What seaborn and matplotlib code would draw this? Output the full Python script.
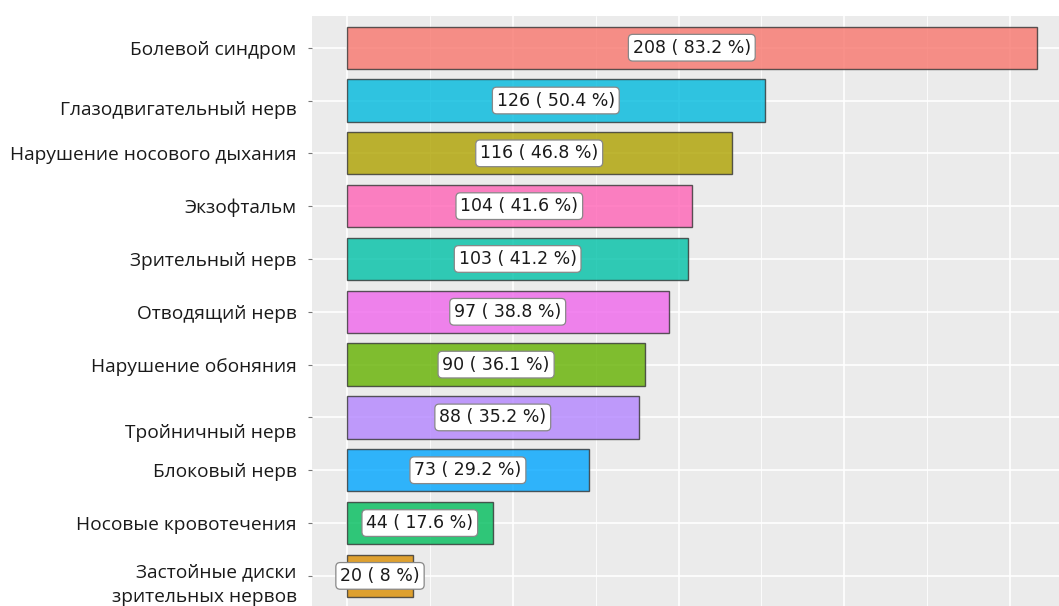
import matplotlib
matplotlib.use("Agg")
import matplotlib.pyplot as plt
import matplotlib.transforms as mtransforms
from matplotlib.ticker import MultipleLocator
import seaborn as sns
import pandas as pd

categories = ['Болевой синдром', 'Глазодвигательный нерв', 'Нарушение носового дыхания',
              'Экзофтальм', 'Зрительный нерв', 'Отводящий нерв', 'Нарушение обоняния',
              'Тройничный нерв', 'Блоковый нерв', 'Носовые кровотечения',
              'Застойные диски\nзрительных нервов']
counts = [208, 126, 116, 104, 103, 97, 90, 88, 73, 44, 20]
percents = [83.2, 50.4, 46.8, 41.6, 41.2, 38.8, 36.1, 35.2, 29.2, 17.6, 8]
colors = ['#F8766D', '#00BADE', '#AEA200', '#FF63B6', '#00C1A7', '#EF67EB',
          '#64B200', '#B385FF', '#00A6FF', '#00BD5C', '#DB8E00']

df = pd.DataFrame({'cat': categories, 'n': counts, 'pct': percents})

sns.set_style('darkgrid', {'axes.facecolor': '#EBEBEB', 'grid.color': 'white'})
plt.rcParams['font.family'] = ['DejaVu Sans']

fig = plt.figure(figsize=(10.59, 6.06), dpi=100)
ax = fig.add_axes([312 / 1059, 0, 1 - 312 / 1059, 1 - 16 / 606])

sns.barplot(data=df, y='cat', x='n', hue='cat', palette=colors, orient='h',
            width=0.8, alpha=0.8, saturation=1, edgecolor='#333333', linewidth=1.0,
            legend=False, ax=ax)

# подписи в белых рамках по центру столбцов
for i, (n, p) in enumerate(zip(counts, percents)):
    ax.text(n / 2, i, f'{n} ( {p:g} %)', ha='center', va='center', fontsize=12.5,
            color='#1a1a1a',
            bbox=dict(boxstyle='round,pad=0.25', fc='white', ec='#888888', lw=0.9))

ax.set_xlim(-10.5, 214.7)
ax.set_ylim(10.57, -0.6)
ax.xaxis.set_major_locator(MultipleLocator(50))
ax.xaxis.set_minor_locator(MultipleLocator(25))
ax.grid(which='major', axis='both', color='white', lw=1.2)
ax.grid(which='minor', axis='x', color='white', lw=0.6)
ax.set_axisbelow(True)
ax.tick_params(axis='x', which='both', bottom=False, labelbottom=False)
ax.tick_params(axis='y', left=True, length=3, color='#777777', pad=8)
ax.set_xlabel('')
ax.set_ylabel('')
for s in ax.spines.values():
    s.set_visible(False)

# небольшие сдвиги подписей, как на исходной картинке
shifts = {'Тройничный нерв': -14, 'Глазодвигательный нерв': -7,
          'Застойные диски\nзрительных нервов': -3}
for lab in ax.get_yticklabels():
    lab.set_fontfamily(['Open Sans', 'DejaVu Sans'])
    lab.set_fontsize(13.8)
    lab.set_color('#1a1a1a')
    lab.set_linespacing(1.5)
    shift = shifts.get(lab.get_text(), 0)
    if shift:
        lab.set_transform(lab.get_transform() +
                          mtransforms.ScaledTranslation(0, shift / 100, fig.dpi_scale_trans))

fig.savefig('out.png', dpi=100)
